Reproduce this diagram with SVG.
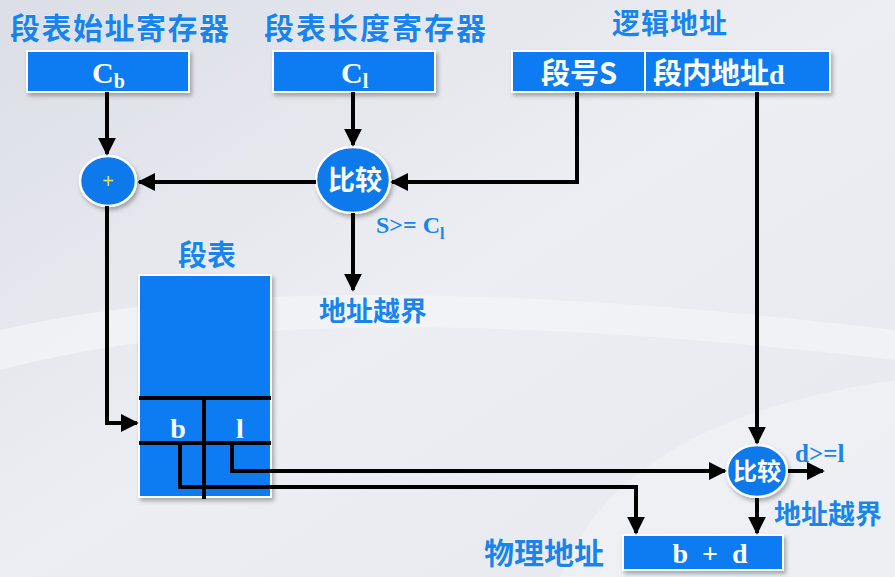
<svg xmlns="http://www.w3.org/2000/svg" width="895" height="577" viewBox="0 0 895 577">
<defs>
<linearGradient id="bg" x1="0" y1="0" x2="1" y2="1">
<stop offset="0" stop-color="#dcdee6"/>
<stop offset="0.5" stop-color="#eceef3"/>
<stop offset="1" stop-color="#e6e8ee"/>
</linearGradient>
<filter id="sh" x="-10%" y="-10%" width="130%" height="140%">
<feDropShadow dx="2" dy="3" stdDeviation="2" flood-color="#000" flood-opacity="0.3"/>
</filter>
<marker id="ah" viewBox="0 0 10 10" refX="9" refY="5" markerWidth="4.5" markerHeight="4.5" orient="auto" markerUnits="strokeWidth">
<path d="M0,0 L10,5 L0,10 z" fill="#000"/>
</marker>
<style>
.title{font-family:"Noto Sans CJK SC","Noto Sans",sans-serif;font-weight:bold;fill:#1a84ee;stroke:#fff;stroke-width:0.6;paint-order:stroke;}
.box{fill:#0f7cf2;stroke:#fff;stroke-width:2;filter:url(#sh);}
.circ{fill:#0d79ea;stroke:#fff;stroke-width:2.5;filter:url(#sh);}
.wt{font-family:"Liberation Serif",serif;font-weight:bold;fill:#fff;}
.wc{font-family:"Noto Sans CJK SC",sans-serif;font-weight:bold;fill:#fff;}
.bl{font-family:"Liberation Serif",serif;font-weight:bold;fill:#1a84ee;}
.ln{fill:none;stroke:#000;stroke-width:4;}
.ar{fill:none;stroke:#000;stroke-width:4;marker-end:url(#ah);}
</style>
</defs>
<rect width="895" height="577" fill="url(#bg)"/>
<path d="M0,330 Q300,260 895,330 L895,360 Q300,290 0,370 z" fill="#f4f5f8" opacity="0.7"/>
<path d="M560,577 Q620,420 895,380 L895,577 z" fill="#f2f3f6" opacity="0.6"/>

<g id="title-cb"><text class="title" x="10" y="39" font-size="30" letter-spacing="1.5">段表始址寄存器</text></g>
<g id="title-cl"><text class="title" x="264" y="39" font-size="30" letter-spacing="2">段表长度寄存器</text></g>
<g id="title-la"><text class="title" x="612" y="34" font-size="28" letter-spacing="1">逻辑地址</text></g>

<g id="reg-cb">
<rect class="box" x="27" y="51" width="162" height="41"/>
<text class="wt" x="92" y="83" font-size="30">C<tspan font-size="20" dy="5">b</tspan></text>
</g>
<g id="reg-cl">
<rect class="box" x="273" y="51" width="162" height="41"/>
<text class="wt" x="341" y="83" font-size="30">C<tspan font-size="20" dy="5">l</tspan></text>
</g>
<g id="logical-addr">
<rect class="box" x="512" y="51" width="318" height="41"/>
<line x1="645" y1="51" x2="645" y2="92" stroke="#fff" stroke-width="2"/>
<text class="wc" x="541" y="84" font-size="29">段号S</text>
<text class="wc" x="653" y="84" font-size="29">段内地址<tspan class="wt" font-size="28">d</tspan></text>
</g>

<g id="adder">
<ellipse class="circ" cx="108" cy="181" rx="28" ry="25"/>
<text x="108" y="188" font-family="Liberation Sans,sans-serif" font-size="20" fill="#e8e040" text-anchor="middle">+</text>
</g>
<g id="cmp1">
<ellipse class="circ" cx="353" cy="180" rx="37" ry="33"/>
<text class="wc" x="355" y="190" font-size="27" text-anchor="middle">比较</text>
</g>
<g id="cmp1-cond"><text class="bl" x="376" y="233" font-size="24">S&gt;= C<tspan font-size="16" dy="6">l</tspan></text></g>
<g id="oob1"><text class="title" x="319" y="321" font-size="27">地址越界</text></g>

<g id="seg-title"><text class="title" x="178" y="266" font-size="29">段表</text></g>
<g id="seg-table">
<rect class="box" x="139" y="275" width="132" height="222"/>
<text class="wt" x="178" y="438" font-size="28" text-anchor="middle">b</text>
<text class="wt" x="240" y="438" font-size="28" text-anchor="middle">l</text>
</g>

<g id="cmp2">
<ellipse class="circ" cx="757" cy="471" rx="30" ry="26"/>
<text class="wc" x="757" y="480" font-size="24" text-anchor="middle">比较</text>
</g>
<g id="cmp2-cond"><text class="bl" x="795" y="462" font-size="25">d&gt;=l</text></g>
<g id="oob2"><text class="title" x="774" y="524" font-size="27">地址越界</text></g>

<g id="phys-title"><text class="title" x="484" y="564" font-size="30">物理地址</text></g>
<g id="phys-addr">
<rect class="box" x="623" y="535" width="160" height="35"/>
<text class="wt" x="710" y="563" font-size="28" text-anchor="middle" xml:space="preserve">b  +  d</text>
</g>

<g id="connectors">
<line class="ar" x1="107" y1="92" x2="107" y2="154"/>
<line class="ar" x1="353" y1="92" x2="353" y2="145"/>
<polyline class="ar" points="577,92 577,182 392,182"/>
<line class="ar" x1="316" y1="182" x2="139" y2="182"/>
<line class="ar" x1="353" y1="213" x2="353" y2="290"/>
<polyline class="ar" points="107,206 107,423 137,423"/>
<line class="ln" x1="139" y1="398" x2="271" y2="398"/>
<line class="ln" x1="139" y1="443" x2="271" y2="443"/>
<line class="ln" x1="204" y1="398" x2="204" y2="499"/>
<polyline class="ar" points="232,443 232,471 725,471"/>
<polyline class="ar" points="180,443 180,487 636,487 636,533"/>
<line class="ar" x1="757" y1="92" x2="757" y2="443"/>
<line class="ar" x1="788" y1="471" x2="823" y2="471"/>
<line class="ar" x1="757" y1="498" x2="757" y2="533"/>
</g>
</svg>
